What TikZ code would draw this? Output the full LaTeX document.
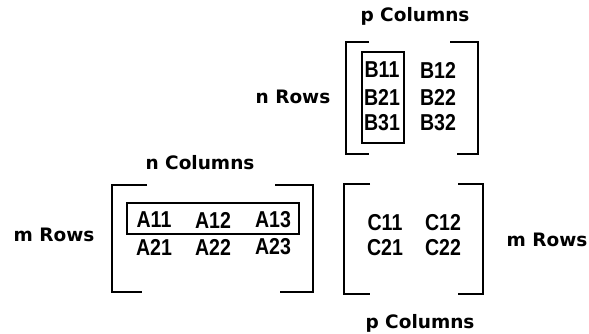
\documentclass[tikz,border=0pt]{standalone}
\usepackage{fontspec}
\setmainfont{Liberation Sans}
\newfontfamily\lblfont{DejaVu Sans}
\newfontfamily\entfont{Liberation Sans}[FakeStretch=0.85]
\begin{document}
\begin{tikzpicture}[x=1pt,y=-1pt,
  lbl/.style={font=\lblfont\bfseries\fontsize{18.5}{18.5}\selectfont, inner sep=0pt},
  ent/.style={font=\entfont\bfseries\fontsize{23}{23}\selectfont, inner sep=0pt},
  brk/.style={line width=2pt},
  hl/.style={draw, line width=1.5pt, inner sep=0pt}]
\useasboundingbox[fill=white] (0,0) rectangle (589,334);
% ---- B matrix
\node[lbl] (pcolt) at (415,16) {p Columns};
\node[lbl] (nrows) at (293,97) {n Rows};
\draw[brk] (369,42) -- (345.5,42) -- (345.5,154) -- (369,154);
\draw[brk] (450,42) -- (478,42) -- (478,154) -- (457,154);
\node[hl, minimum width=42, minimum height=91] (bbox) at (383,97.5) {};
\node[ent] (b11) at (382,70) {B11};
\node[ent] (b12) at (438,70) {B12};
\node[ent] (b21) at (382,97) {B21};
\node[ent] (b22) at (438,97) {B22};
\node[ent] (b31) at (382,123) {B31};
\node[ent] (b32) at (438,123) {B32};
% ---- A matrix
\node[lbl] (ncol) at (200,163) {n Columns};
\node[lbl] (mrowl) at (54,235) {m Rows};
\draw[brk] (147,185) -- (112,185) -- (112,292) -- (142,292);
\draw[brk] (275,185) -- (313,185) -- (313,292) -- (280,292);
\node[hl, minimum width=172, minimum height=31] (abox) at (213,218.5) {};
\node[ent] (a11) at (154,220) {A11};
\node[ent] (a12) at (213,220) {A12};
\node[ent] (a13) at (273,220) {A13};
\node[ent] (a21) at (154,247) {A21};
\node[ent] (a22) at (213,247) {A22};
\node[ent] (a23) at (273,247) {A23};
% ---- C matrix
\node[lbl] (mrowr) at (547,240) {m Rows};
\node[lbl] (pcolb) at (420,323) {p Columns};
\draw[brk] (370,184) -- (344,184) -- (344,294) -- (370,294);
\draw[brk] (458,184) -- (483,184) -- (483,294) -- (458,294);
\node[ent] (c11) at (385,223) {C11};
\node[ent] (c12) at (443,223) {C12};
\node[ent] (c21) at (385,248) {C21};
\node[ent] (c22) at (443,248) {C22};
\end{tikzpicture}
\end{document}
